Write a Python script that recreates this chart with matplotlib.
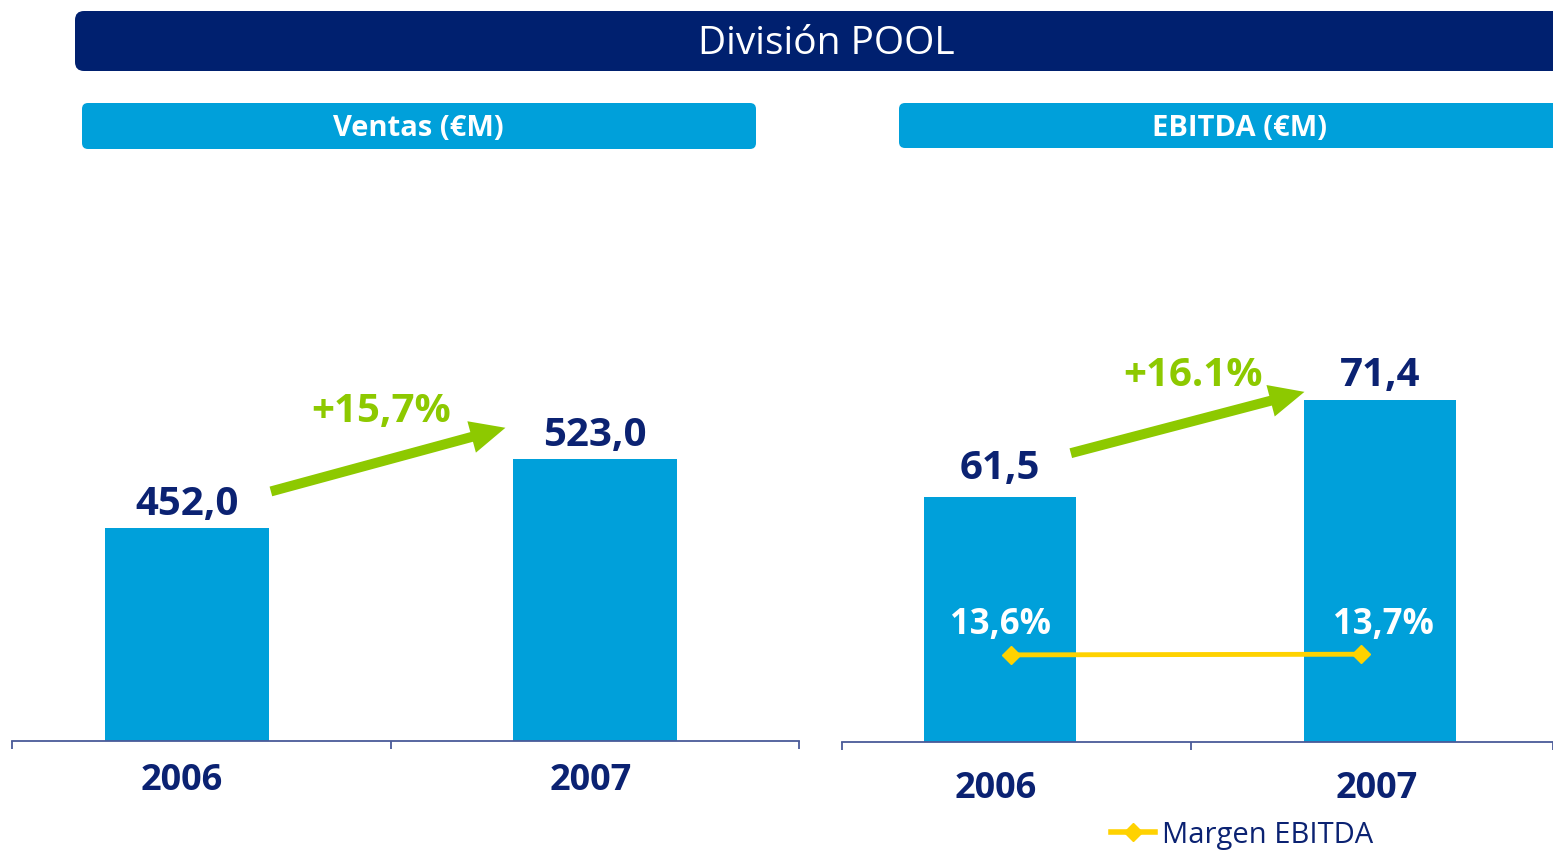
import matplotlib
matplotlib.use('Agg')
import matplotlib.pyplot as plt
from matplotlib.patches import FancyBboxPatch, FancyArrowPatch
from matplotlib.lines import Line2D

# ---------------- data ----------------
years = ['2006', '2007']
ventas = [452.0, 523.0]
ebitda = [61.5, 71.4]
margen = [13.6, 13.7]
ventas_labels = ['452,0', '523,0']
ebitda_labels = ['61,5', '71,4']
margen_labels = ['13,6%', '13,7%']
growth_ventas = '+15,7%'
growth_ebitda = '+16.1%'
title = 'División POOL'
sub_left = 'Ventas (€M)'
sub_right = 'EBITDA (€M)'
legend_label = 'Margen EBITDA'

# ---------------- style ----------------
plt.rcParams['font.family'] = ['Open Sans', 'DejaVu Sans']
NAVY = '#0B2272'
BANNER = '#00206F'
BLUE = '#00A0DA'
GREEN = '#8DC900'
YELLOW = '#FFD200'
AXIS = '#4A5A98'

W, H = 1553, 853
fig = plt.figure(figsize=(W / 100, H / 100), dpi=100)


def rect(x0, y0, x1, y1):
    return [x0 / W, 1 - y1 / H, (x1 - x0) / W, (y1 - y0) / H]


def box(x0, y0, x1, y1, color, r):
    p = FancyBboxPatch((x0 / 100, (H - y1) / 100), (x1 - x0) / 100, (y1 - y0) / 100,
                       boxstyle=f'round,pad=0,rounding_size={r}',
                       transform=fig.dpi_scale_trans, fc=color, ec='none')
    fig.patches.append(p)


# banners
box(75, 12, 1600, 72, BANNER, 0.09)
fig.text(826 / W, 1 - 44 / H, title, color='white', fontsize=28, ha='center', va='center')
box(82, 104, 756, 150, BLUE, 0.06)
fig.text(418 / W, 1 - 128 / H, sub_left, color='white', fontsize=21, fontweight='bold',
         ha='center', va='center')
box(899, 104, 1600, 149, BLUE, 0.06)
fig.text(1240 / W, 1 - 128 / H, sub_right, color='white', fontsize=21, fontweight='bold',
         ha='center', va='center')


def style_axis(ax, xl, xr, mid, pad):
    for s in ['top', 'right', 'left']:
        ax.spines[s].set_visible(False)
    ax.spines['bottom'].set_color(AXIS)
    ax.spines['bottom'].set_linewidth(1.3)
    ax.set_xlim(xl, xr)
    ax.set_xticks([xl, mid, xr])
    ax.set_xticklabels(['', '', ''])
    ax.tick_params(axis='x', which='major', direction='out', length=6, width=1.3, color=AXIS)
    ax.set_xticks([-0.012, 0.99], minor=True)
    ax.set_xticklabels(years, minor=True)
    ax.tick_params(axis='x', which='minor', length=0, pad=pad, labelsize=26,
                   labelcolor=NAVY)
    for lab in ax.get_xticklabels(minor=True):
        lab.set_fontweight('bold')
    ax.set_yticks([])
    ax.patch.set_alpha(0)


# ---------------- left: Ventas ----------------
axL = fig.add_axes(rect(12, 160, 799, 742))
axL.bar([0, 1], ventas, width=0.402, color=BLUE, bottom=0)
axL.set_ylim(233, 233 + 582 / 0.972)
style_axis(axL, -0.429, 1.5, 0.5, 15)
for i, (v, lab) in enumerate(zip(ventas, ventas_labels)):
    axL.annotate(lab, (i, v), xytext=(0, 4), textcoords='offset points', ha='center',
                 va='bottom', fontsize=29, fontweight='bold', color=NAVY)
arrL = FancyArrowPatch((0.199, ventas[0] + 37), (0.787, ventas[1] + 33),
                       arrowstyle='simple,head_length=1.4,head_width=1.3,tail_width=0.4',
                       mutation_scale=18, color=GREEN, lw=0)
axL.add_patch(arrL)
axL.annotate(growth_ventas, (0.475, ventas[1] + 33), xytext=(0, 12), textcoords='offset points',
             ha='center', va='center', fontsize=29, fontweight='bold', color=GREEN)

# ---------------- right: EBITDA ----------------
axR = fig.add_axes(rect(842, 160, 1553, 743))
axR.bar([0, 1], ebitda, width=0.4, color=BLUE)
axR.set_ylim(36.5, 36.5 + 583 / 9.8)
style_axis(axR, -0.416, 1.455, 0.503, 20)
axR.spines['bottom'].set_bounds(-0.416, 1.6)
for i, (v, lab) in enumerate(zip(ebitda, ebitda_labels)):
    axR.annotate(lab, (i, v), xytext=(0, [7, 4][i]), textcoords='offset points', ha='center',
                 va='bottom', fontsize=29, fontweight='bold', color=NAVY)
arrR = FancyArrowPatch((0.179, ebitda[0] + 4.4), (0.808, ebitda[1] + 0.9),
                       arrowstyle='simple,head_length=1.4,head_width=1.3,tail_width=0.4',
                       mutation_scale=18, color=GREEN, lw=0)
axR.add_patch(arrR)
axR.annotate(growth_ebitda, (0.508, ebitda[1] + 0.9), xytext=(0, 12), textcoords='offset points',
             ha='center', va='center', fontsize=29, fontweight='bold', color=GREEN)

# margin line on a twin axis
axM = axR.twinx()
axM.set_ylim(0, 91)
axM.set_axis_off()
line, = axM.plot([0.03, 0.95], margen, color=YELLOW, lw=3.5, marker='D', markersize=9,
                 label=legend_label)
for i, (m, lab) in enumerate(zip(margen, margen_labels)):
    axM.annotate(lab, (i + [0.0, 0.01][i], m), xytext=(0, 22), textcoords='offset points',
                 ha='center', va='center', fontsize=25, fontweight='bold', color='white')

fig.legend(handles=[Line2D([], [], color=YELLOW, lw=4, marker='D', markersize=9)],
           labels=[legend_label], loc='center left', bbox_to_anchor=(1111 / W, 1 - 836 / H),
           frameon=False, fontsize=21, handlelength=1.5, handletextpad=0.25,
           labelcolor=NAVY, borderpad=0, borderaxespad=0)

fig.savefig('out.png', dpi=100)
